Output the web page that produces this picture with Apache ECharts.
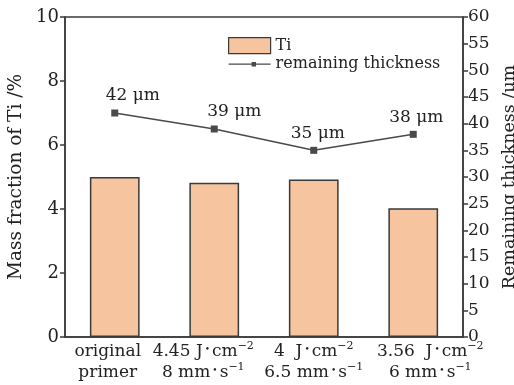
<!DOCTYPE html>
<html>
<head>
<meta charset="utf-8">
<script src="https://cdn.jsdelivr.net/npm/echarts@6/dist/echarts.min.js"></script>
<style>
  html, body { margin: 0; padding: 0; background: #fff; }
  #chart { width: 514px; height: 385px; }
</style>
</head>
<body>
<div id="chart"></div>
<script>
// Process conditions; ^{..} marks a superscript, * marks the product dot
const categories = [
  'original\nprimer',
  '4.45 J*cm^{−2}\n8 mm*s^{−1}',
  '4  J*cm^{−2}\n6.5 mm*s^{−1}',
  '3.56  J*cm^{−2}\n6 mm*s^{−1}'
];
// Ti mass fraction, %
const tiFraction = [5.0, 4.82, 4.92, 4.02];
// Remaining coating thickness, μm
const thickness = [42, 39, 35, 38];

const serif = '"DejaVu Serif", "Liberation Serif", serif';
const ink = '#3a3a3a';

// Horizontal nudges for the category labels and the value labels (px)
const catLabelShift = [-7, -11, 0, 17];
const valueLabelShift = [18, 20, 4, 3];

// Turn the markup in a category string into ECharts rich text
function richLabel(str) {
  return str.split('\n').map(line => {
    let out = '';
    const re = /\^\{([^}]*)\}|\*|([^*^]+)/g;
    let m;
    while ((m = re.exec(line)) !== null) {
      if (m[1] !== undefined) out += '{s|' + m[1] + '}';
      else if (m[0] === '*') out += '{d|•}';
      else out += '{a|' + m[2] + '}';
    }
    return out;
  }).join('\n');
}

const chart = echarts.init(document.getElementById('chart'), null, { renderer: 'canvas' });
chart.setOption({
  animation: false,
  backgroundColor: '#fff',
  textStyle: { fontFamily: serif, color: '#222' },
  grid: {
    left: 65, right: 51, top: 17, bottom: 48,
    outerBoundsMode: 'none',
    show: true, borderColor: ink, borderWidth: 1.5, backgroundColor: 'transparent'
  },
  legend: {
    left: 228, top: 37,
    padding: 0,
    orient: 'vertical',
    itemGap: 2,
    itemWidth: 42, itemHeight: 16,
    textStyle: { fontFamily: serif, fontSize: 16, color: '#222' },
    data: [
      { name: 'Ti', icon: 'rect', itemStyle: { borderColor: ink, borderWidth: 1.2 } },
      {
        name: 'remaining thickness',
        icon: 'path://M0,7.4L42,7.4L42,8.6L0,8.6Z M23,5.8L27.4,5.8L27.4,10.2L23,10.2Z',
        itemStyle: { color: '#4a4a4a', borderWidth: 0 }
      }
    ]
  },
  xAxis: {
    type: 'category',
    data: categories.map((c, i) => {
      const s = catLabelShift[i];
      return {
        value: c,
        textStyle: { padding: s >= 0 ? [0, 0, 0, 2 * s] : [0, -2 * s, 0, 0] }
      };
    }),
    axisLine: { lineStyle: { color: ink, width: 1.5 } },
    axisTick: { show: true, inside: true, alignWithLabel: true, length: 6, lineStyle: { color: ink, width: 1.5 } },
    axisLabel: {
      interval: 0, margin: 4,
      formatter: v => richLabel(v),
      rich: {
        a: { fontFamily: serif, fontSize: 17, color: '#222', lineHeight: 21 },
        d: { fontFamily: serif, fontSize: 9, color: '#222', lineHeight: 21, padding: [0, 2, 4, 2] },
        s: { fontFamily: serif, fontSize: 11, color: '#222', lineHeight: 10, verticalAlign: 'top' }
      }
    }
  },
  yAxis: [
    {
      type: 'value', min: 0, max: 10, interval: 2,
      name: 'Mass fraction of Ti /%',
      nameLocation: 'middle', nameGap: 33, nameRotate: 90,
      nameTextStyle: { fontFamily: serif, fontSize: 18.5, color: '#222' },
      axisLine: { show: true, lineStyle: { color: ink, width: 1.5 } },
      axisTick: { show: true, inside: false, length: 5, lineStyle: { color: ink, width: 1.5 } },
      axisLabel: { fontFamily: serif, fontSize: 18, color: '#222', margin: 6 },
      splitLine: { show: false }
    },
    {
      type: 'value', min: 0, max: 60, interval: 5,
      position: 'right',
      name: 'Remaining thickness /μm',
      nameLocation: 'middle', nameGap: 36, nameRotate: 90,
      nameTextStyle: { fontFamily: serif, fontSize: 17.5, color: '#222' },
      axisLine: { show: true, lineStyle: { color: ink, width: 1.5 } },
      axisTick: { show: true, inside: false, length: 5, lineStyle: { color: ink, width: 1.5 } },
      axisLabel: { fontFamily: serif, fontSize: 17, color: '#222', margin: 5 },
      splitLine: { show: false }
    }
  ],
  series: [
    {
      name: 'Ti',
      type: 'bar',
      yAxisIndex: 0,
      data: tiFraction,
      barWidth: '50%',
      itemStyle: { color: '#f6c49e', borderColor: ink, borderWidth: 1.5 }
    },
    {
      name: 'remaining thickness',
      type: 'line',
      yAxisIndex: 1,
      data: thickness.map((v, i) => ({ value: v, label: { offset: [valueLabelShift[i], 0] } })),
      symbol: 'rect',
      symbolSize: 7,
      lineStyle: { color: '#4a4a4a', width: 1.5 },
      itemStyle: { color: '#4a4a4a' },
      label: {
        show: true, position: 'top', distance: 5,
        fontFamily: serif, fontSize: 17, color: '#222',
        formatter: p => p.value + ' μm'
      }
    }
  ]
});
</script>
</body>
</html>
